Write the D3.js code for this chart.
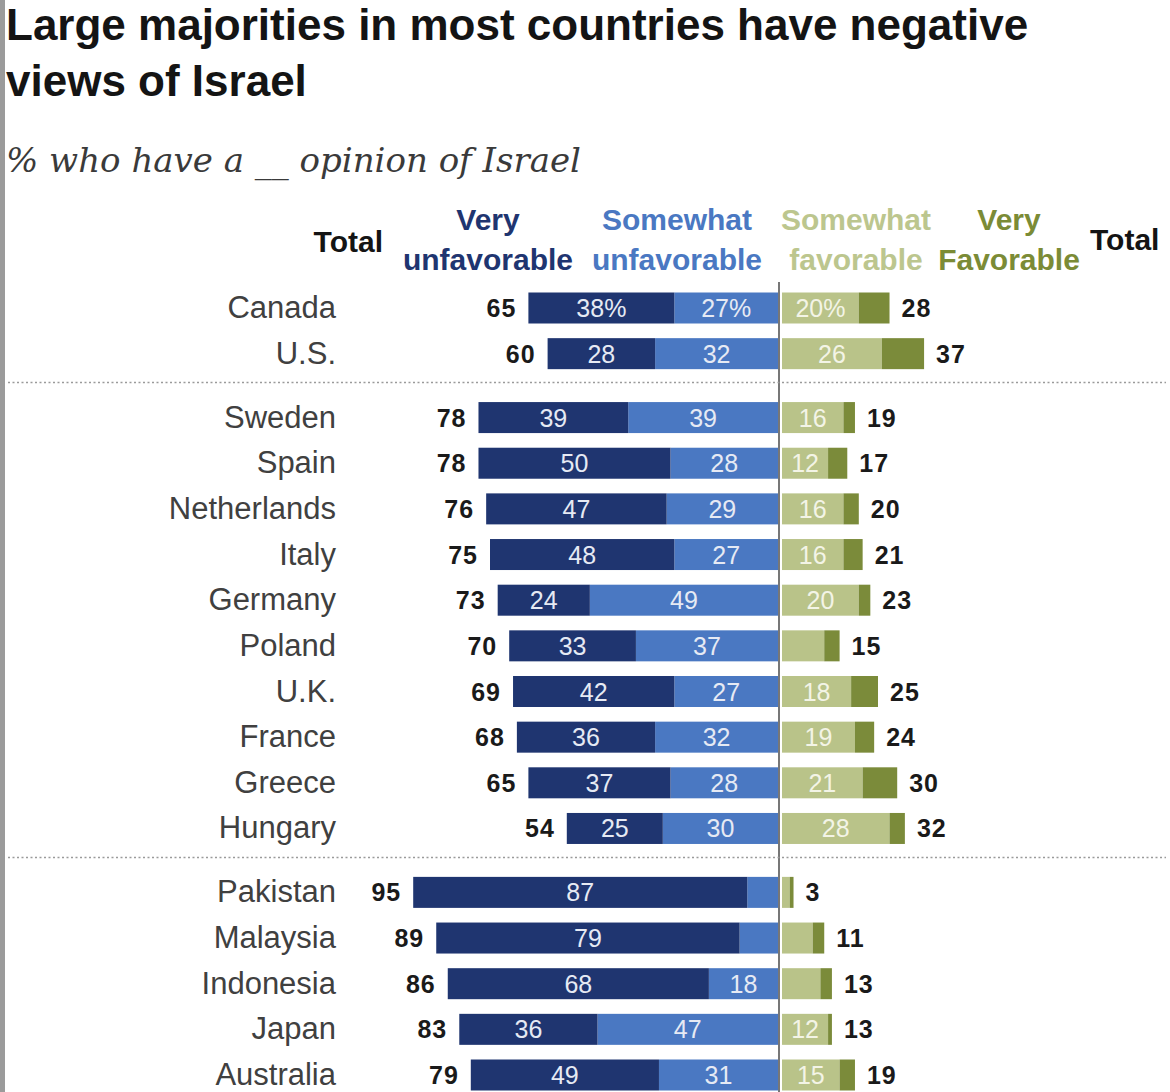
<!DOCTYPE html>
<html lang="en">
<head>
  <meta charset="UTF-8">
  <title>Large majorities in most countries have negative views of Israel</title>
  <script src="https://d3js.org/d3.v7.min.js"></script>
  <style>
    body {
      margin: 0;
      background: #fff;
    }
    svg {
      display: block;
      font-family: "Liberation Sans", Arial, sans-serif;
    }
  </style>
</head>
<body>
<svg width="1170" height="1092"></svg>

<script>
  // Data
  const countries = ["Canada", "U.S.", "Sweden", "Spain", "Netherlands", "Italy", "Germany",
    "Poland", "U.K.", "France", "Greece", "Hungary", "Pakistan", "Malaysia", "Indonesia",
    "Japan", "Australia"];
  const groups = [0, 0, 1, 1, 1, 1, 1, 1, 1, 1, 1, 1, 2, 2, 2, 2, 2];
  const totalUnfav = [65, 60, 78, 78, 76, 75, 73, 70, 69, 68, 65, 54, 95, 89, 86, 83, 79];
  const veryUnfav = [38, 28, 39, 50, 47, 48, 24, 33, 42, 36, 37, 25, 87, 79, 68, 36, 49];
  const someUnfav = [27, 32, 39, 28, 29, 27, 49, 37, 27, 32, 28, 30, 8, 10, 18, 47, 31];
  const someFav = [20, 26, 16, 12, 16, 16, 20, 11, 18, 19, 21, 28, 2, 8, 10, 12, 15];
  const veryFav = [8, 11, 3, 5, 4, 5, 3, 4, 7, 5, 9, 4, 1, 3, 3, 1, 4];
  const totalFav = [28, 37, 19, 17, 20, 21, 23, 15, 25, 24, 30, 32, 3, 11, 13, 13, 19];

  const headers = [
    { lines: ["Very", "unfavorable"], color: "#1f3570", x: 488 },
    { lines: ["Somewhat", "unfavorable"], color: "#4a78c2", x: 677 },
    { lines: ["Somewhat", "favorable"], color: "#bcc68e", x: 856 },
    { lines: ["Very", "Favorable"], color: "#7b8b36", x: 1009 }
  ];

  const colors = {
    veryUnfav: "#1f3570",
    someUnfav: "#4a78c2",
    someFav: "#b9c389",
    veryFav: "#7b8b3a"
  };

  const svg = d3.select("svg");
  const center = 779;
  const barH = 31;

  // left gray rule
  svg.append("rect").attr("x", 0).attr("y", 0).attr("width", 5).attr("height", 1092)
    .attr("fill", "#9b9b9b");

  // title + subtitle
  svg.append("text").attr("x", 6).attr("y", 40)
    .attr("font-size", 44).attr("font-weight", "bold").attr("fill", "#141414")
    .text("Large majorities in most countries have negative");
  svg.append("text").attr("x", 6).attr("y", 96)
    .attr("font-size", 44).attr("font-weight", "bold").attr("fill", "#141414")
    .text("views of Israel");
  svg.append("text").attr("x", 6).attr("y", 172)
    .attr("font-family", "'DejaVu Serif', Georgia, serif")
    .attr("font-style", "italic").attr("font-size", 34).attr("fill", "#3a3a3a")
    .text("% who have a __ opinion of Israel");

  // scales: slot index with extra space between groups
  const slot = countries.map((c, i) => i + groups[i] * 0.4);
  const y = d3.scaleLinear().domain([0, d3.max(slot)]).range([308, 1075]);
  const xL = d3.scaleLinear().domain([0, 100]).range([center - 1, center - 1 - 384]);
  const xR = d3.scaleLinear().domain([0, 100]).range([center + 3, center + 3 + 384]);

  // column headers
  svg.append("text").attr("x", 383).attr("y", 252).attr("text-anchor", "end")
    .attr("font-size", 30).attr("font-weight", "bold").attr("fill", "#141414").text("Total");
  svg.append("text").attr("x", 1090).attr("y", 250)
    .attr("font-size", 30).attr("font-weight", "bold").attr("fill", "#141414").text("Total");
  headers.forEach(h => {
    h.lines.forEach((line, j) => {
      svg.append("text").attr("x", h.x).attr("y", 230 + j * 40)
        .attr("text-anchor", "middle").attr("font-size", 30).attr("font-weight", "bold")
        .attr("fill", h.color).text(line);
    });
  });

  // center line
  svg.append("line").attr("x1", center).attr("x2", center).attr("y1", 282).attr("y2", 1092)
    .attr("stroke", "#4a4a4a").attr("stroke-width", 1.5);

  // group separators
  [1, 11].forEach(i => {
    const yy = (y(slot[i]) + y(slot[i + 1])) / 2 - 3;
    svg.append("line").attr("x1", 8).attr("x2", 1166).attr("y1", yy).attr("y2", yy)
      .attr("stroke", "#9a9a9a").attr("stroke-width", 1.5).attr("stroke-dasharray", "2,2.5");
  });

  const rows = countries.map((c, i) => ({
    name: c, i, y: y(slot[i]),
    segs: [
      { key: "someUnfav", x0: xL(someUnfav[i]), x1: xL(0), v: someUnfav[i], label: true },
      { key: "veryUnfav", x0: xL(someUnfav[i] + veryUnfav[i]), x1: xL(someUnfav[i]), v: veryUnfav[i], label: true },
      { key: "someFav", x0: xR(0), x1: xR(someFav[i]), v: someFav[i], label: true },
      { key: "veryFav", x0: xR(someFav[i]), x1: xR(someFav[i] + veryFav[i]), v: veryFav[i], label: false }
    ]
  }));

  const g = svg.selectAll("g.row").data(rows).join("g").attr("class", "row")
    .attr("transform", d => `translate(0,${d.y})`);

  g.append("text").attr("x", 336).attr("y", 10).attr("text-anchor", "end")
    .attr("font-size", 31).attr("fill", "#404040").text(d => d.name);

  g.selectAll("rect").data(d => d.segs).join("rect")
    .attr("x", s => s.x0).attr("y", -barH / 2)
    .attr("width", s => s.x1 - s.x0).attr("height", barH)
    .attr("fill", s => colors[s.key]);

  g.selectAll("text.seg").data(d => d.segs.filter(s => s.label && s.v >= 12)
      .map(s => Object.assign({ first: d.i === 0 }, s)))
    .join("text").attr("class", "seg")
    .attr("x", s => (s.x0 + s.x1) / 2).attr("y", 9).attr("text-anchor", "middle")
    .attr("font-size", 25)
    .attr("fill", s => s.key === "someFav" ? "#f3f4e6" : "#e6eaf4")
    .text(s => s.v + (s.first ? "%" : ""));

  g.append("text").attr("x", d => xL(someUnfav[d.i] + veryUnfav[d.i]) - 12).attr("y", 9)
    .attr("text-anchor", "end").attr("font-size", 25).attr("font-weight", "bold")
    .attr("letter-spacing", 1).attr("fill", "#1a1a1a").text(d => totalUnfav[d.i]);

  g.append("text").attr("x", d => xR(someFav[d.i] + veryFav[d.i]) + 12).attr("y", 9)
    .attr("font-size", 25).attr("font-weight", "bold").attr("letter-spacing", 1)
    .attr("fill", "#1a1a1a").text(d => totalFav[d.i]);
</script>
</body>
</html>
